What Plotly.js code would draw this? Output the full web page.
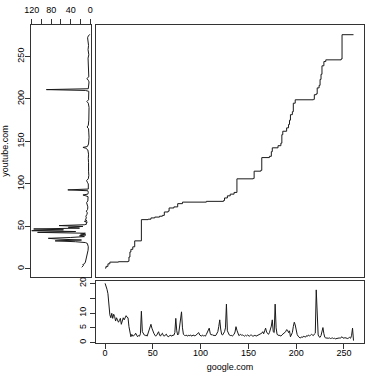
<!DOCTYPE html>
<html>
<head>
<meta charset="utf-8">
<script src="https://cdn.plot.ly/plotly-3.0.1.min.js"></script>
<style>
  body { margin: 0; background: #fff; }
  #chart { width: 374px; height: 376px; }
</style>
</head>
<body>
<div id="chart"></div>
<script>
// main panel: step curve, google.com (x) vs youtube.com (y)
let stepX = [0, 1, 3, 5, 14, 24, 25, 26, 27, 29, 31, 38, 45, 48, 52, 57, 60, 62, 66, 67, 72, 76, 81,
  106, 124, 125, 128, 131, 135, 138, 155, 156, 163, 164, 172, 174, 175, 181, 184, 185, 186, 190, 192,
  193, 194, 196, 197, 199, 218, 219, 221, 222, 224, 225, 226, 227, 229, 231, 247, 248, 260];
let stepY = [1, 3, 6, 8, 8.5, 9, 14, 20, 23, 26, 33, 58, 58.5, 60, 61, 62, 63, 67, 68, 71.7, 73, 76.8, 78.6,
  79.5, 80.5, 83.5, 86, 88, 90, 106, 106.5, 115, 116, 131, 132.5, 138, 142.5, 145, 148, 158, 162, 166, 170,
  175, 181.5, 185, 195, 199, 199.5, 205, 206, 213, 216, 223, 229, 239, 244, 246, 247, 275.6, 275.6];

// bottom panel: one value per google.com position 0..260
let bottomVals = [
  20, 19.2, 18, 16.5, 12.5, 9.4, 8.4, 9.9, 8.2, 9.6,
  8.8, 7.3, 8.4, 7.8, 6.9, 7.5, 8.2, 6.2, 7.4, 8.4,
  7.7, 8.5, 9.1, 8.6, 8.4, 5.4, 3.2, 2.0, 2.8, 2.2,
  2.4, 2.6, 3.2, 2.5, 2.0, 2.4, 2.2, 3.0, 10.6, 3.7,
  2.8, 2.6, 2.4, 2.6, 2.2, 3.2, 4.2, 5.2, 6.2, 4.9,
  3.8, 3.2, 2.6, 2.2, 2.5, 3.0, 3.7, 2.6, 2.2, 2.9,
  3.2, 2.4, 2.2, 2.6, 2.9, 2.3, 2.0, 2.2, 2.5, 2.4,
  2.2, 2.6, 2.5, 3.4, 8.2, 4.0, 2.6, 3.0, 5.4, 6.2,
  10.4, 5.0, 2.8, 2.5, 2.4, 2.6, 2.2, 2.5, 2.3, 2.6,
  2.4, 2.2, 2.6, 2.4, 2.3, 2.5, 2.8, 3.2, 3.4, 2.6,
  2.4, 2.2, 2.6, 2.3, 2.4, 2.2, 2.8, 3.6, 4.3, 4.9,
  3.2, 2.6, 2.8, 2.4, 2.6, 2.3, 2.5, 3.0, 3.7, 5.5,
  7.7, 4.6, 2.8, 2.6, 3.0, 3.7, 5.0, 13.0, 4.0, 3.2,
  2.6, 2.4, 2.5, 2.2, 2.6, 2.8, 3.6, 5.4, 4.2, 2.8,
  2.4, 2.6, 2.8, 2.5, 2.6, 2.4, 2.2, 2.5, 2.3, 2.6,
  2.4, 2.2, 2.5, 2.6, 2.3, 2.2, 2.4, 2.5, 2.2, 2.4,
  2.6, 2.5, 2.8, 3.0, 3.2, 3.7, 3.0, 4.0, 4.9, 3.6,
  3.2, 2.8, 3.4, 4.2, 5.6, 7.7, 3.7, 3.4, 13.0, 5.0,
  2.8, 2.6, 2.4, 2.5, 2.2, 2.6, 2.8, 3.0, 3.4, 3.7,
  4.4, 4.2, 3.4, 4.0, 2.0, 2.6, 3.4, 5.4, 6.9, 6.0,
  4.2, 2.8, 2.2, 1.9, 1.6, 1.7, 2.0, 1.8, 2.2, 2.0,
  1.9, 2.4, 2.2, 2.6, 2.3, 2.5, 2.8, 2.6, 2.4, 2.9,
  3.2, 17.8, 5.5, 2.6, 2.0, 1.8, 2.4, 3.4, 5.1, 3.0,
  1.8, 1.6, 1.5, 1.4, 1.5, 1.6, 1.4, 1.5, 1.6, 1.4,
  1.5, 1.3, 1.4, 1.5, 1.4, 1.6, 1.5, 1.8, 2.0, 1.6,
  1.5, 1.7, 1.6, 1.5, 1.4, 1.6, 1.8, 1.5, 2.5, 4.9,
  0.7
];
let bottomX = bottomVals.map((v, i) => i);

// left panel: youtube.com positions and their values (axis reversed)
let leftY = [2, 3, 4, 5, 6, 8, 10, 12, 15, 18, 22, 26, 29, 30, 31, 32, 33, 34, 35, 36, 37, 38, 39, 40,
  41, 42, 43, 44, 45, 46, 47, 48, 49, 50, 51, 52, 53, 54, 55, 56, 57, 58, 60, 62, 64, 66, 68, 70, 73,
  76, 78, 80, 83, 85, 86, 87, 88, 90, 92, 93, 94, 97, 100, 102, 104, 106, 110, 115, 120, 125, 130, 135,
  140, 142, 143, 144, 147, 150, 155, 160, 165, 167, 169, 175, 180, 185, 190, 195, 197, 199, 205, 209,
  210, 211, 212, 215, 220, 222, 224, 226, 232, 238, 242, 248, 252, 258, 263, 268, 272, 274, 275, 276];
let leftV = [17.5, 16, 14, 15.5, 12, 10, 9, 8, 6.5, 5.5, 4.5, 4, 4.5, 6, 10, 30, 72, 18, 62, 86, 40, 12,
  22, 9, 20, 10, 108, 30, 120, 55, 116, 22, 45, 15, 64, 11, 7, 9, 6, 12, 7, 10, 8, 9, 7, 6, 8, 5.5, 5,
  6, 7.5, 5, 4, 4.5, 9, 15, 5, 4, 5, 46, 4, 3.5, 4, 6, 7.5, 4, 3, 3.5, 3, 3.5, 4, 3.5,
  5, 9, 15, 6, 3.5, 3, 2.5, 3, 3.5, 6.5, 4, 3, 2.5, 3, 2.5, 4, 7, 3.5, 3, 3,
  10, 90, 4, 3, 2.5, 4, 7, 3, 3.5, 4, 3, 4.5, 3, 4.5, 3.5, 4.5, 5.5, 4, 2.5, 1];

let lineStyle = {color: '#1a1a1a', width: 1};

let traces = [
  {x: leftV, y: leftY, xaxis: 'x', yaxis: 'y', type: 'scatter', mode: 'lines', line: lineStyle},
  {x: stepX, y: stepY, xaxis: 'x2', yaxis: 'y2', type: 'scatter', mode: 'lines',
   line: {color: '#1a1a1a', width: 1, shape: 'hv'}},
  {x: bottomX, y: bottomVals, xaxis: 'x3', yaxis: 'y3', type: 'scatter', mode: 'lines', line: lineStyle}
];

let boxAxis = {
  showline: true, mirror: true, linecolor: '#333', linewidth: 1,
  showgrid: false, zeroline: false, ticks: 'outside', ticklen: 5, tickcolor: '#333',
  tickfont: {size: 9, color: '#000'}
};

let layout = {
  width: 374, height: 376,
  margin: {l: 0, r: 0, t: 0, b: 0},
  paper_bgcolor: '#fff', plot_bgcolor: '#fff',
  font: {family: '"Liberation Sans", Arial, sans-serif', size: 9, color: '#000'},
  showlegend: false,
  xaxis: Object.assign({}, boxAxis, {
    domain: [0.0816, 0.2433], range: [122.5, -1.5], side: 'top', anchor: 'y',
    tickvals: [0, 40, 80, 120], ticklabelstandoff: 2,
    minor: {tickvals: [20, 60, 100], ticks: 'outside', ticklen: 5, tickcolor: '#333'}
  }),
  yaxis: Object.assign({}, boxAxis, {
    domain: [0.2633, 0.9335], range: [-9.5, 287], anchor: 'x',
    tickvals: [0, 50, 100, 150, 200, 250], tickangle: -90, ticklabelstandoff: -3,
    title: {text: 'youtube.com', font: {size: 9}, standoff: 5}
  }),
  xaxis2: Object.assign({}, boxAxis, {
    domain: [0.2567, 0.9733], range: [-9.5, 271], anchor: 'y2', ticks: '', showticklabels: false
  }),
  yaxis2: Object.assign({}, boxAxis, {
    domain: [0.2633, 0.9335], range: [-9.5, 287], anchor: 'x2', ticks: '', showticklabels: false
  }),
  xaxis3: Object.assign({}, boxAxis, {
    domain: [0.2567, 0.9733], range: [-9.5, 271], anchor: 'y3',
    tickvals: [0, 50, 100, 150, 200, 250], ticklabelstandoff: -4,
    title: {text: 'google.com', font: {size: 9}, standoff: 6}
  }),
  yaxis3: Object.assign({}, boxAxis, {
    domain: [0.087, 0.2527], range: [-0.2, 20.8], anchor: 'x3',
    tickvals: [0, 5, 10, 15, 20], ticktext: ['0', '5', '10', '', '20'], tickangle: -90
  })
};

Plotly.newPlot('chart', traces, layout, {displayModeBar: false, staticPlot: true});
</script>
</body>
</html>
